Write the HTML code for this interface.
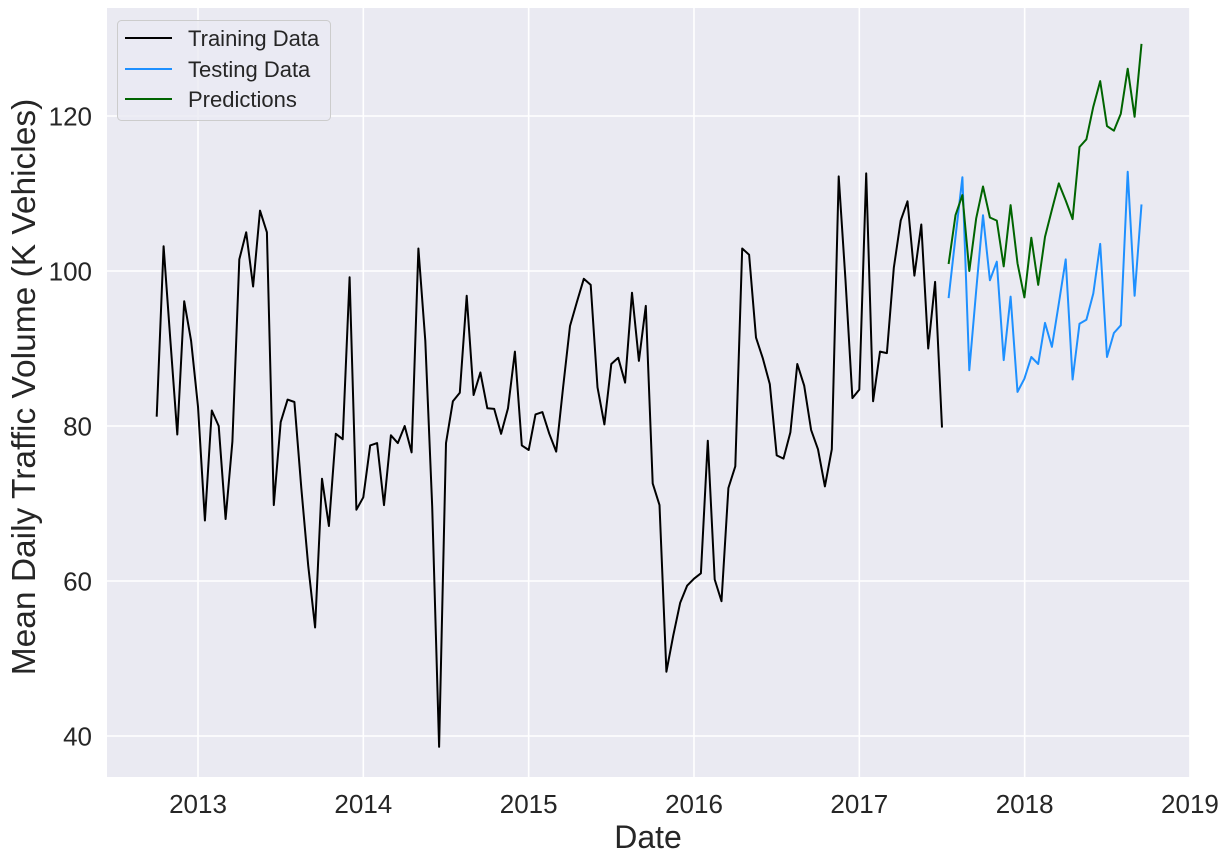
<!DOCTYPE html>
<html><head><meta charset="utf-8"><style>
html,body{margin:0;padding:0;background:#fff;}
svg{display:block;font-family:"Liberation Sans",Arial,sans-serif;}
</style></head><body>
<svg id="chart" width="1231" height="865">
<rect x="107" y="8" width="1083" height="769" fill="#eaeaf2"/>
<g id="grid"></g>
<g id="series"></g>
<g id="ticks"></g>
<text x="648" y="848" font-size="32" fill="#262626" text-anchor="middle">Date</text>
<text transform="translate(35,387) rotate(-90)" font-size="33.5" fill="#262626" text-anchor="middle">Mean Daily Traffic Volume (K Vehicles)</text>
<g>
<rect x="117.5" y="20.5" width="213" height="100" rx="4" fill="#eaeaf2" fill-opacity="0.8" stroke="#cccccc"/>
<line x1="125" y1="38" x2="172" y2="38" stroke="#000" stroke-width="2"/>
<text x="188" y="46" font-size="22" fill="#262626">Training Data</text>
<line x1="125" y1="69" x2="172" y2="69" stroke="#1e90ff" stroke-width="2"/>
<text x="188" y="77" font-size="22" fill="#262626">Testing Data</text>
<line x1="125" y1="99" x2="172" y2="99" stroke="#006400" stroke-width="2"/>
<text x="188" y="107" font-size="22" fill="#262626">Predictions</text>
</g>
</svg>
<script>
const trainStart = 2012.75;
const testStart = 2017.54;
const step = 1/24;
const trainValues = [81.2,103.2,91,78.9,96.1,91,82.5,67.8,82,80,68,78,101.5,105,98,107.8,105,69.8,80.5,83.4,83.1,72,62,54,73.2,67.1,79,78.3,99.2,69.2,70.8,77.5,77.8,69.8,78.8,77.8,80,76.6,102.9,91,69.6,38.6,77.8,83.2,84.3,96.8,84,86.9,82.3,82.2,79,82.3,89.6,77.5,76.9,81.5,81.8,79,76.7,85,92.9,96,99,98.2,85,80.2,88,88.8,85.6,97.2,88.4,95.5,72.6,69.8,48.3,53,57.2,59.4,60.3,61,78.1,60.2,57.4,72,74.8,102.9,102.1,91.4,88.7,85.4,76.2,75.8,79.2,88,85.2,79.5,77,72.2,77,112.2,98.8,83.6,84.7,112.6,83.2,89.6,89.4,100.4,106.5,109,99.4,106,90,98.6,79.8];
const testValues = [96.5,104.4,112.1,87.2,97.5,107.2,98.8,101.2,88.5,96.7,84.4,86.1,88.9,88.0,93.3,90.2,95.8,101.5,86.0,93.2,93.7,97.1,103.5,88.9,92.0,93.0,112.8,96.8,108.6];
const predValues = [100.9,107.2,109.8,100,106.8,110.9,106.9,106.5,100.6,108.5,101.0,96.6,104.3,98.2,104.4,107.9,111.3,109.1,106.7,116.0,117.0,121.2,124.5,118.7,118.1,120.3,126.1,119.9,129.3];
const yTicks = [40,60,80,100,120];
const xTicks = [2013,2014,2015,2016,2017,2018,2019];

const NS = "http://www.w3.org/2000/svg";
const X0=107, X1=1190, Y0=8, Y1=777;
function xs(t){ return 198 + (t-2013)*165.33; }
function ys(v){ return 271 - (v-100)*7.75; }
function mk(tag, attrs, parent){ const e=document.createElementNS(NS,tag); for(const k in attrs) e.setAttribute(k,attrs[k]); parent.appendChild(e); return e; }
const grid=document.getElementById('grid'), ticks=document.getElementById('ticks'), series=document.getElementById('series');
yTicks.forEach(v=>{
  const l=mk('line',{x1:X0,x2:X1,y1:ys(v),y2:ys(v),stroke:'#fff','stroke-width':1.6},grid);
  
  
  const t=mk('text',{x:92,y:ys(v)+9.5,'font-size':26,fill:'#262626','text-anchor':'end'},ticks);
  t.textContent=v;
  
  
});
xTicks.forEach(v=>{
  const l=mk('line',{x1:xs(v),x2:xs(v),y1:Y0,y2:Y1,stroke:'#fff','stroke-width':1.6},grid);
  
  
  const t=mk('text',{x:xs(v),y:813,'font-size':26,fill:'#262626','text-anchor':'middle'},ticks);
  t.textContent=v;
  
  
});
function line(vals,start,color,name){
  const pts=vals.map((v,i)=>xs(start+i*step).toFixed(1)+','+ys(v).toFixed(1)).join(' ');
  const p=mk('polyline',{points:pts,fill:'none',stroke:color,'stroke-width':2,'stroke-linejoin':'round'},series);
  
  
}
line(trainValues,trainStart,'#000','training-line');
line(testValues,testStart,'#1e90ff','testing-line');
line(predValues,testStart,'#006400','predictions-line');
</script>
</body></html>
